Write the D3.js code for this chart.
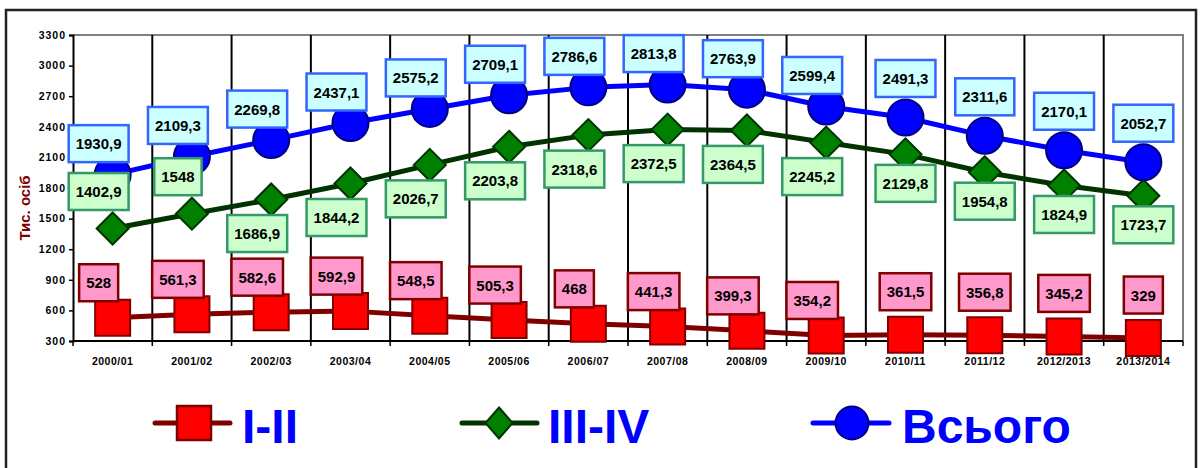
<!DOCTYPE html>
<html>
<head>
<meta charset="utf-8">
<script src="https://cdn.jsdelivr.net/npm/d3@7/dist/d3.min.js"></script>
<style>
  html, body { margin: 0; padding: 0; background: #fff; }
  svg { display: block; font-family: Arial, "Liberation Sans", sans-serif; }
</style>
</head>
<body>
<svg id="chart" width="1203" height="468"></svg>
<script>
// School years and pupil counts, thousands of people
const categories = ['2000/01', '2001/02', '2002/03', '2003/04', '2004/05', '2005/06', '2006/07',
  '2007/08', '2008/09', '2009/10', '2010/11', '2011/12', '2012/2013', '2013/2014']
const gradesI_II = [528, 561.3, 582.6, 592.9, 548.5, 505.3, 468, 441.3, 399.3, 354.2, 361.5, 356.8, 345.2, 329]
const gradesIII_IV = [1402.9, 1548, 1686.9, 1844.2, 2026.7, 2203.8, 2318.6, 2372.5, 2364.5, 2245.2, 2129.8, 1954.8, 1824.9, 1723.7]
const total = [1930.9, 2109.3, 2269.8, 2437.1, 2575.2, 2709.1, 2786.6, 2813.8, 2763.9, 2599.4, 2491.3, 2311.6, 2170.1, 2052.7]
const yTicks = [300, 600, 900, 1200, 1500, 1800, 2100, 2400, 2700, 3000, 3300]

const svg = d3.select('#chart')
const plotL = 73, plotR = 1183, plotT = 35, plotB = 341

const x = d3.scaleBand().domain(categories).range([plotL, plotR])
const y = d3.scaleLinear().domain([300, 3300]).range([plotB, plotT])
const cx = (i) => x(categories[i]) + x.bandwidth() / 2

// outer frame
svg.append('rect')
  .attr('x', 6).attr('y', 10).attr('width', 1190).attr('height', 470)
  .attr('fill', 'none').attr('stroke', '#222').attr('stroke-width', 2.5)

// plot frame: grey top/right, black axes
svg.append('path')
  .attr('d', `M${plotL},${plotT}H${plotR}V${plotB}`)
  .attr('fill', 'none').attr('stroke', '#808080').attr('stroke-width', 2)

const bounds = categories.map(c => x(c)).concat([plotR])

// vertical grid at category boundaries
svg.append('g').selectAll('line')
  .data(bounds.slice(1, -1))
  .join('line')
  .attr('x1', d => d).attr('x2', d => d)
  .attr('y1', plotT).attr('y2', plotB)
  .attr('stroke', '#000').attr('stroke-width', 2)

// y axis
const yAxis = svg.append('g')
  .attr('transform', `translate(${plotL},0)`)
  .call(d3.axisLeft(y).tickValues(yTicks).tickSize(4).tickPadding(3).tickFormat(d3.format('d')))
yAxis.select('.domain').attr('stroke', '#000').attr('stroke-width', 2)
yAxis.selectAll('.tick line').attr('stroke', '#000').attr('stroke-width', 1.5)
yAxis.selectAll('text')
  .attr('font-size', 10.5).attr('font-weight', 'bold').attr('fill', '#000')
  .attr('letter-spacing', 1).attr('font-family', 'Arial, "Liberation Sans", sans-serif')

// x axis: labels centred, ticks at boundaries
const xAxis = svg.append('g')
  .attr('transform', `translate(0,${plotB})`)
  .call(d3.axisBottom(x).tickSize(0).tickPadding(17))
xAxis.select('.domain').remove()
xAxis.selectAll('text')
  .attr('font-size', 10.5).attr('font-weight', 'bold').attr('fill', '#000')
  .attr('letter-spacing', 0.5).attr('font-family', 'Arial, "Liberation Sans", sans-serif')

svg.append('line')
  .attr('x1', plotL).attr('x2', plotR).attr('y1', plotB).attr('y2', plotB)
  .attr('stroke', '#000').attr('stroke-width', 2)
svg.append('g').selectAll('line')
  .data(bounds)
  .join('line')
  .attr('x1', d => d).attr('x2', d => d)
  .attr('y1', plotB).attr('y2', plotB + 5)
  .attr('stroke', '#000').attr('stroke-width', 1.5)

// y title
svg.append('text')
  .attr('transform', 'translate(30,208) rotate(-90)')
  .attr('text-anchor', 'middle')
  .attr('font-size', 15).attr('font-weight', 'bold')
  .attr('fill', '#800000')
  .text('Тис. осіб')

const line = d3.line().x((d, i) => cx(i)).y(d => y(d))

function drawLine(values, color) {
  svg.append('path')
    .datum(values)
    .attr('d', line)
    .attr('fill', 'none')
    .attr('stroke', color)
    .attr('stroke-width', 5)
    .attr('stroke-linejoin', 'round')
}

const squarePath = (w, h) => `M${-w / 2},${-h / 2}h${w}v${h}h${-w}Z`
const diamondPath = (w, h) => `M0,${-h / 2}L${w / 2},0L0,${h / 2}L${-w / 2},0Z`

// I-II
drawLine(gradesI_II, '#800000')
svg.append('g').selectAll('path')
  .data(gradesI_II)
  .join('path')
  .attr('transform', (d, i) => `translate(${cx(i)},${y(d)})`)
  .attr('d', squarePath(35, 36))
  .attr('fill', '#ff0000').attr('stroke', '#800000').attr('stroke-width', 2)

// III-IV
drawLine(gradesIII_IV, '#003300')
svg.append('g').selectAll('path')
  .data(gradesIII_IV)
  .join('path')
  .attr('transform', (d, i) => `translate(${cx(i)},${y(d)})`)
  .attr('d', diamondPath(32, 32))
  .attr('fill', '#008000').attr('stroke', '#003300').attr('stroke-width', 2)

// total
drawLine(total, '#0000ff')
svg.append('g').selectAll('circle')
  .data(total)
  .join('circle')
  .attr('cx', (d, i) => cx(i)).attr('cy', d => y(d))
  .attr('r', 18)
  .attr('fill', '#0000ff').attr('stroke', '#000080').attr('stroke-width', 2)

// data labels: the first ten years sit a bit left of their marker in the source
const fmt = (v) => String(v).replace('.', ',')
const shiftX = (i) => (i < 10 ? -14 : 0)

function drawLabels(values, fill, stroke, dyFn) {
  const g = svg.append('g')
  values.forEach((v, i) => {
    const lx = cx(i) + shiftX(i)
    const ly = y(v) + dyFn(i)
    const box = g.append('rect')
    const t = g.append('text')
      .attr('x', lx).attr('y', ly)
      .attr('text-anchor', 'middle').attr('dominant-baseline', 'central')
      .attr('font-size', 15).attr('font-weight', 'bold').attr('fill', '#000')
      .text(fmt(v))
    const w = t.node().getComputedTextLength() + 14
    const h = 37
    box.attr('x', lx - w / 2).attr('y', ly - h / 2).attr('width', w).attr('height', h)
      .attr('fill', fill).attr('stroke', stroke).attr('stroke-width', 2.5)
  })
}

drawLabels(gradesI_II, '#ff99cc', '#800000', i => (i < 10 ? -35 : -43))
// green labels: first two above the marker, the rest below
drawLabels(gradesIII_IV, '#ccffcc', '#339966', i => (i < 2 ? -37 : (i < 10 ? 34 : 29)))
drawLabels(total, '#ccffff', '#3366ff', i => (i < 10 ? -31 : -39))

// legend
const legend = svg.append('g')
const legendItems = [
  { name: 'I-II', color: '#800000', x0: 155, x1: 230, mx: 194, tx: 242,
    marker: g => g.append('path').attr('d', squarePath(34, 34)).attr('fill', '#ff0000').attr('stroke', '#800000').attr('stroke-width', 2.5) },
  { name: 'III-IV', color: '#003300', x0: 462, x1: 537, mx: 499, tx: 548,
    marker: g => g.append('path').attr('d', diamondPath(27, 31)).attr('fill', '#008000').attr('stroke', '#003300').attr('stroke-width', 2) },
  { name: 'Всього', color: '#0000ff', x0: 813, x1: 889, mx: 852, tx: 902,
    marker: g => g.append('circle').attr('r', 16.5).attr('fill', '#0000ff').attr('stroke', '#000080').attr('stroke-width', 2) }
]
const legendY = 423
legendItems.forEach(it => {
  legend.append('line')
    .attr('x1', it.x0).attr('x2', it.x1).attr('y1', legendY).attr('y2', legendY)
    .attr('stroke', it.color).attr('stroke-width', 5).attr('stroke-linecap', 'round')
  it.marker(legend.append('g').attr('transform', `translate(${it.mx},${legendY})`))
  legend.append('text')
    .attr('x', it.tx).attr('y', 443)
    .attr('font-size', 48).attr('font-weight', 'bold').attr('fill', '#0000ff')
    .text(it.name)
})
</script>
</body>
</html>
